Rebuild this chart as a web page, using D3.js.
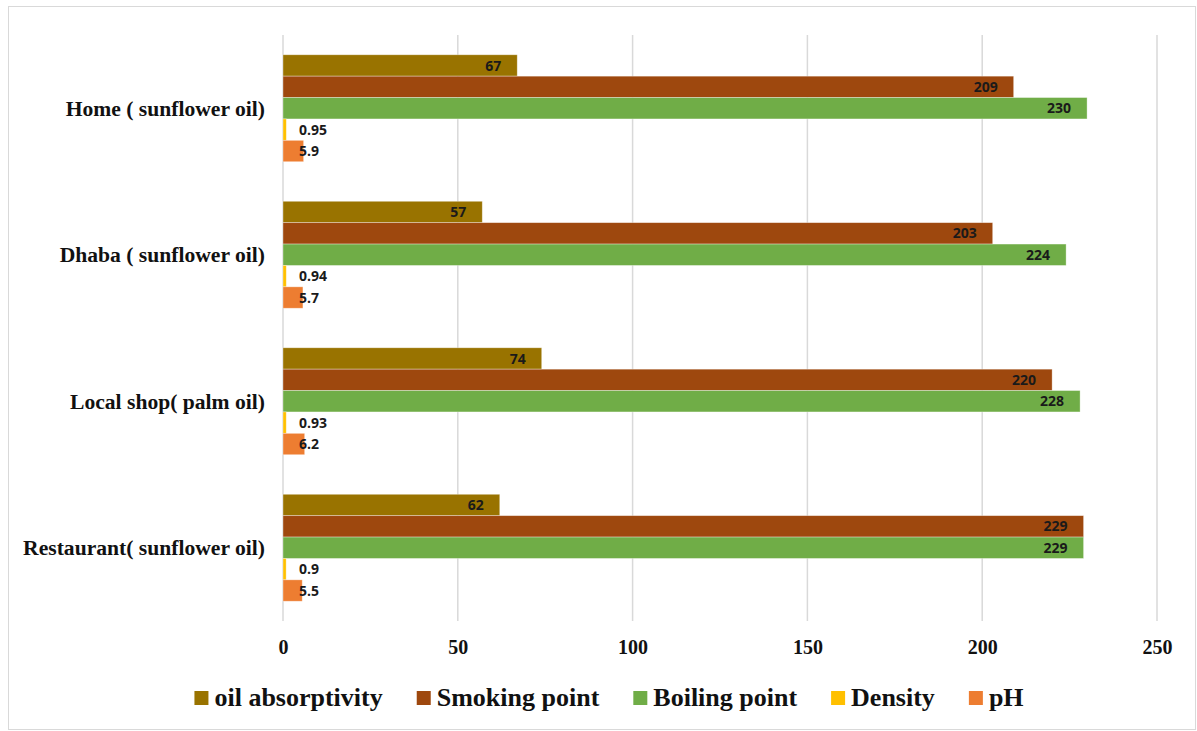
<!DOCTYPE html>
<html>
<head>
<meta charset="utf-8">
<script src="https://cdn.jsdelivr.net/npm/d3@7"></script>
<style>
  html, body { margin: 0; padding: 0; background: #fff; }
  svg { display: block; }
</style>
</head>
<body>
<svg id="chart" width="1197" height="731"></svg>
<script>
// Oil samples and their measured properties
const categories = ["Home ( sunflower oil)", "Dhaba ( sunflower oil)", "Local shop( palm oil)", "Restaurant( sunflower oil)"];
const seriesNames = ["oil absorptivity", "Smoking point", "Boiling point", "Density", "pH"];
const seriesColors = ["#997300", "#9E480E", "#70AD47", "#FFC000", "#ED7D31"];
const oilAbsorptivity = [67, 57, 74, 62];
const smokingPoint = [209, 203, 220, 229];
const boilingPoint = [230, 224, 228, 229];
const density = [0.95, 0.94, 0.93, 0.9];
const pH = [5.9, 5.7, 6.2, 5.5];
const xTicks = [0, 50, 100, 150, 200, 250];

const seriesValues = [oilAbsorptivity, smokingPoint, boilingPoint, density, pH];

const svg = d3.select("#chart");

// outer frame
svg.append("rect")
  .attr("x", 8.5).attr("y", 6.5)
  .attr("width", 1187).attr("height", 723)
  .attr("fill", "#fff").attr("stroke", "#d9d9d9").attr("stroke-width", 1);

const plot = { left: 283, right: 1157, top: 35, bottom: 621 };

const x = d3.scaleLinear().domain([0, 250]).range([plot.left, plot.right]);
const y = d3.scaleBand().domain(categories).range([plot.top, plot.bottom])
  .paddingInner(0.27).paddingOuter(0.135);
const ySub = d3.scaleBand().domain(seriesNames).range([0, y.bandwidth()]);

// vertical gridlines
svg.append("g").selectAll("line").data(xTicks).join("line")
  .attr("x1", d => x(d)).attr("x2", d => x(d))
  .attr("y1", plot.top).attr("y2", plot.bottom)
  .attr("stroke", "#d9d9d9").attr("stroke-width", 1.5);

// x axis tick labels
const xAxis = d3.axisBottom(x).tickValues(xTicks).tickSize(0).tickPadding(0);
const gx = svg.append("g").attr("transform", `translate(0,${plot.bottom})`).call(xAxis);
gx.select(".domain").remove();
gx.selectAll("text")
  .attr("y", 33).attr("dy", null)
  .attr("font-family", "'Liberation Serif', 'Times New Roman', serif")
  .attr("font-weight", "bold").attr("font-size", 20).attr("fill", "#111");

// category labels
const yAxis = d3.axisLeft(y).tickSize(0).tickPadding(0);
const gy = svg.append("g").attr("transform", `translate(265,0)`).call(yAxis);
gy.select(".domain").remove();
gy.selectAll("text")
  .attr("font-family", "'Liberation Serif', 'Times New Roman', serif")
  .attr("font-weight", "bold").attr("font-size", 21.6).attr("fill", "#111")
  .attr("dy", "0.35em");

// bars
const rows = [];
categories.forEach((c, i) => {
  seriesNames.forEach((s, j) => {
    rows.push({ cat: c, series: s, color: seriesColors[j], value: seriesValues[j][i] });
  });
});

const gBars = svg.append("g");
gBars.selectAll("rect").data(rows).join("rect")
  .attr("x", x(0))
  .attr("y", d => y(d.cat) + ySub(d.series))
  .attr("width", d => x(d.value) - x(0))
  .attr("height", ySub.bandwidth())
  .attr("fill", d => d.color)
  .attr("stroke", "rgba(255,255,255,0.45)").attr("stroke-width", 0.75);

// value labels at the inside end of each bar
const labels = svg.append("g").selectAll("text").data(rows).join("text")
  .attr("y", d => y(d.cat) + ySub(d.series) + ySub.bandwidth() / 2)
  .attr("dy", "0.36em")
  .attr("font-family", "'Open Sans', 'DejaVu Sans', sans-serif")
  .attr("font-weight", "bold").attr("font-size", 14).attr("fill", "#1a1a1a")
  .text(d => d.value);
labels.each(function (d) {
  const w = this.getComputedTextLength();
  const end = x(d.value) - 16;
  const minStart = x(0) + 16;
  const start = Math.max(end - w, minStart);
  d3.select(this).attr("x", start).attr("text-anchor", "start");
});

// legend
const legend = svg.append("g");
const legendY = 698;
const items = legend.selectAll("g").data(seriesNames).join("g");
items.append("rect")
  .attr("width", 14).attr("height", 14)
  .attr("y", legendY - 7)
  .attr("fill", (d, i) => seriesColors[i]);
items.append("text")
  .attr("x", 20).attr("y", legendY + 8)
  .attr("font-family", "'Liberation Serif', 'Times New Roman', serif")
  .attr("font-weight", "bold").attr("font-size", 26).attr("fill", "#111")
  .text(d => d);
let cursor = 0;
const positions = [];
items.each(function () {
  const tw = d3.select(this).select("text").node().getComputedTextLength();
  positions.push(cursor);
  cursor += 20 + tw + 34;
});
const totalW = cursor - 34;
const legendStart = 609 - totalW / 2;
items.attr("transform", (d, i) => `translate(${legendStart + positions[i]},0)`);
</script>
</body>
</html>
